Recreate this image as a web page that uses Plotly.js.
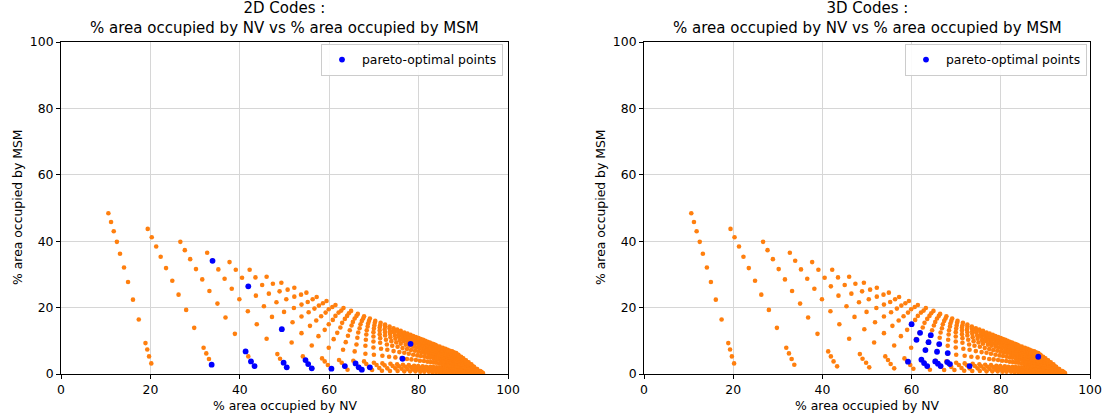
<!DOCTYPE html>
<html><head><meta charset="utf-8">
<script src="https://cdn.plot.ly/plotly-3.0.1.min.js"></script>
<style>html,body{margin:0;padding:0;background:#fff}#chart{width:1106px;height:415px}</style>
</head><body><div id="chart"></div>
<script>
// orange: all codes, one row per ray (NV %, MSM %)
const rayNV = [
[10.6,11.2,11.8,12.5,13.2,14.1,15.0,16.1,17.4,18.9,19.3,19.7,20.2],
[19.4,20.3,21.3,22.3,23.5,24.9,26.3,28.0,29.8,31.9,32.5,33.1,33.7],
[26.7,27.7,28.9,30.2,31.6,33.2,35.0,36.8,38.9,41.3,41.9,42.5,43.3],
[32.7,33.9,35.2,36.6,38.2,39.9,41.8,43.8,46.0,48.4,49.0,49.8,50.5],
[37.7,39.1,40.5,41.9,43.6,45.4,47.2,49.4,51.6,54.1,54.7,55.3,56.1],
[42.2,43.5,45.0,46.5,48.2,49.9,51.8,53.8,56.1,58.4,59.0,59.7,60.4],
[46.0,47.4,48.9,50.4,52.1,53.8,55.7,57.6,59.9,62.2,62.8,63.5,64.1],
[49.3,50.7,52.2,53.8,55.4,57.1,59.0,61.0,63.1,65.4,65.9,66.6,67.3],
[52.2,53.7,55.2,56.7,58.2,59.9,61.8,63.7,65.7,67.8,68.3,68.9,69.6],
[54.9,56.3,57.7,59.2,60.8,62.5,64.2,66.1,68.1,70.0,70.6,71.2,71.8],
[57.2,58.6,59.9,61.4,62.9,64.6,66.3,68.1,70.0,71.9,72.4,73.0,73.6],
[59.4,60.7,62.1,63.5,65.0,66.5,68.2,69.9,71.9,73.7,74.2,74.8,75.3],
[61.4,62.7,64.0,65.3,66.8,68.3,69.9,71.6,73.4,75.2,75.6,76.2,76.8],
[63.2,64.4,65.7,67.0,68.4,69.9,71.4,73.0,74.8,76.5,77.0,77.5,78.1],
[64.9,66.1,67.3,68.6,69.9,71.4,72.9,74.4,76.2,77.8,78.3,78.8,79.3],
[66.4,67.6,68.7,70.0,71.3,72.7,74.1,75.7,77.4,79.0,79.4,79.9,80.4],
[67.8,68.9,70.1,71.3,72.5,73.9,75.3,76.8,78.4,79.9,80.4,80.8,81.3],
[69.1,70.2,71.3,72.5,73.7,75.0,76.4,77.8,79.4,80.9,81.3,81.8,82.3],
[70.3,71.4,72.4,73.6,74.8,76.0,77.4,78.8,80.3,81.7,82.1,82.6,83.1],
[71.5,72.5,73.6,74.7,75.8,77.1,78.3,79.7,81.2,82.6,83.0,83.4,83.9],
[72.5,73.5,74.5,75.6,76.7,77.9,79.2,80.5,82.0,83.3,83.7,84.2,84.6],
[73.5,74.5,75.5,76.5,77.6,78.8,80.0,81.3,82.7,84.0,84.4,84.8,85.2],
[74.4,75.4,76.3,77.3,78.4,79.5,80.7,82.0,83.3,84.6,85.0,85.4,85.8],
[75.2,76.1,77.1,78.0,79.1,80.2,81.4,82.6,83.9,85.2,85.5,85.9,86.3],
[76.0,77.0,77.9,78.9,80.0,81.0,82.2,83.4,84.6,85.8,86.1,86.5,86.9],
[76.8,77.7,78.7,79.7,80.7,81.7,82.8,84.0,85.2,86.3,86.7,87.1,87.4],
[77.5,78.4,79.3,80.3,81.3,82.3,83.4,84.5,85.7,86.8,87.1,87.5,87.8],
[78.2,79.1,80.0,80.9,81.9,82.9,83.9,85.0,86.2,87.3,87.6,88.0,88.3],
[78.8,79.7,80.5,81.5,82.4,83.4,84.4,85.5,86.6,87.7,88.0,88.3,88.7],
[79.4,80.3,81.1,82.0,82.9,83.9,84.9,85.9,87.0,88.1,88.4,88.7,89.0],
[80.0,80.8,81.7,82.6,83.4,84.4,85.3,86.4,87.5,88.5,88.8,89.1,89.4],
[80.5,81.3,82.1,83.0,83.9,84.8,85.7,86.7,87.8,88.8,89.1,89.4,89.7],
[81.0,81.8,82.6,83.5,84.3,85.2,86.1,87.1,88.2,89.1,89.4,89.8,90.0],
[81.5,82.3,83.1,83.9,84.7,85.6,86.5,87.5,88.5,89.5,89.7,90.1,90.3],
[82.0,82.8,83.5,84.3,85.2,86.0,86.9,87.9,88.8,89.8,90.1,90.4,90.6],
[82.5,83.3,84.0,84.8,85.6,86.4,87.3,88.2,89.2,90.1,90.4,90.7,90.9],
[82.9,83.6,84.4,85.1,85.9,86.7,87.6,88.5,89.5,90.4,90.6,90.9,91.2],
[83.3,84.0,84.7,85.5,86.3,87.1,87.9,88.8,89.7,90.6,90.9,91.2,91.4],
[83.7,84.4,85.1,85.9,86.6,87.4,88.2,89.1,90.0,90.9,91.1,91.4,91.7],
[84.0,84.7,85.4,86.1,86.9,87.6,88.5,89.3,90.2,91.1,91.3,91.6,91.8],
[84.7,85.4,86.0,86.7,87.5,88.2,89.0,89.8,90.7,91.5,91.7,92.0,92.3],
[85.4,86.0,86.7,87.4,88.1,88.8,89.5,90.3,91.2,91.9,92.2,92.4,92.7],
[86.0,86.6,87.2,87.9,88.6,89.2,90.0,90.7,91.5,92.3,92.5,92.8,93.0],
[86.5,87.1,87.7,88.3,89.0,89.7,90.4,91.1,91.9,92.6,92.8,93.1,93.3],
[87.0,87.6,88.2,88.8,89.4,90.1,90.7,91.5,92.2,92.9,93.1,93.4,93.6],
[87.5,88.1,88.6,89.2,89.8,90.5,91.1,91.8,92.5,93.2,93.4,93.7,93.9],
[87.9,88.5,89.0,89.6,90.2,90.8,91.4,92.1,92.8,93.5,93.7,93.9,94.1],
[88.4,88.9,89.5,90.0,90.6,91.2,91.8,92.4,93.1,93.8,94.0,94.2,94.4]
];
const rayMSM = [
[48.4,45.8,43.0,39.8,36.2,32.1,27.7,22.4,16.4,9.3,7.4,5.3,3.2],
[43.7,41.2,38.4,35.3,31.9,28.1,23.9,19.3,13.9,7.9,6.2,4.5,2.8],
[39.8,37.3,34.6,31.6,28.5,25.0,21.2,17.0,12.1,6.8,5.3,3.8,2.3],
[36.5,34.1,31.5,28.7,25.7,22.5,18.9,15.0,10.6,6.0,4.6,3.4,2.0],
[33.7,31.4,29.0,26.4,23.6,20.4,17.2,13.5,9.5,5.3,4.2,3.0,1.7],
[31.4,29.1,26.8,24.2,21.6,18.7,15.6,12.3,8.6,4.7,3.8,2.7,1.6],
[29.3,27.2,24.9,22.5,19.9,17.3,14.5,11.4,7.9,4.2,3.4,2.3,1.3],
[27.5,25.4,23.3,20.9,18.6,16.1,13.3,10.5,7.3,4.0,3.2,2.2,1.2],
[26.0,23.9,21.7,19.7,17.4,15.0,12.4,9.6,6.8,3.8,3.0,2.1,1.2],
[24.5,22.5,20.6,18.5,16.3,14.0,11.5,8.9,6.1,3.4,2.7,1.8,1.0],
[23.2,21.3,19.5,17.5,15.4,13.2,10.9,8.5,5.8,3.2,2.6,1.7,0.9],
[22.0,20.2,18.5,16.6,14.6,12.5,10.3,8.0,5.5,3.1,2.4,1.7,0.9],
[20.8,19.1,17.5,15.7,13.8,11.9,9.8,7.6,5.2,2.9,2.3,1.6,0.8],
[19.9,18.3,16.7,15.0,13.2,11.3,9.4,7.3,5.0,2.8,2.2,1.5,0.8],
[19.0,17.5,16.0,14.3,12.6,10.8,8.9,6.9,4.8,2.7,2.1,1.4,0.8],
[18.1,16.7,15.2,13.7,12.0,10.3,8.5,6.6,4.5,2.5,2.0,1.4,0.7],
[17.4,16.0,14.6,13.1,11.6,9.9,8.2,6.4,4.4,2.4,1.9,1.3,0.7],
[16.7,15.4,14.0,12.6,11.1,9.5,7.8,6.1,4.2,2.3,1.8,1.3,0.7],
[16.0,14.7,13.4,12.1,10.6,9.1,7.5,5.8,4.0,2.2,1.8,1.2,0.6],
[15.4,14.2,12.9,11.6,10.2,8.8,7.2,5.6,3.9,2.2,1.7,1.2,0.6],
[14.9,13.7,12.5,11.2,9.9,8.5,7.0,5.4,3.7,2.1,1.6,1.1,0.6],
[14.3,13.2,12.0,10.8,9.5,8.2,6.7,5.2,3.6,2.0,1.6,1.1,0.6],
[13.8,12.7,11.6,10.4,9.2,7.9,6.5,5.0,3.5,1.9,1.5,1.0,0.6],
[13.4,12.3,11.3,10.1,8.9,7.6,6.3,4.9,3.4,1.9,1.5,1.0,0.5],
[13.0,11.9,10.8,9.6,8.5,7.2,5.9,4.6,3.1,1.8,1.4,0.9,0.5],
[12.5,11.4,10.4,9.3,8.1,6.9,5.7,4.4,3.0,1.7,1.3,0.9,0.5],
[12.2,11.2,10.1,9.0,7.9,6.8,5.6,4.3,2.9,1.6,1.3,0.9,0.5],
[11.8,10.8,9.8,8.7,7.7,6.5,5.4,4.1,2.8,1.6,1.2,0.8,0.5],
[11.4,10.4,9.5,8.4,7.4,6.3,5.2,4.0,2.7,1.5,1.2,0.8,0.5],
[11.1,10.2,9.2,8.2,7.2,6.2,5.1,3.9,2.7,1.5,1.2,0.8,0.4],
[10.8,9.9,9.0,8.0,7.0,6.0,4.9,3.8,2.6,1.5,1.1,0.8,0.4],
[10.5,9.6,8.7,7.8,6.8,5.8,4.8,3.7,2.5,1.4,1.1,0.7,0.4],
[10.3,9.4,8.5,7.6,6.7,5.7,4.7,3.6,2.5,1.4,1.1,0.7,0.4],
[10.0,9.2,8.3,7.4,6.5,5.6,4.6,3.5,2.4,1.4,1.1,0.7,0.4],
[9.7,8.9,8.1,7.2,6.3,5.4,4.4,3.4,2.3,1.3,1.0,0.7,0.4],
[9.5,8.7,7.9,7.0,6.2,5.3,4.3,3.3,2.3,1.3,1.0,0.7,0.4],
[9.2,8.4,7.6,6.8,6.0,5.1,4.2,3.2,2.2,1.2,1.0,0.6,0.4],
[9.0,8.2,7.5,6.7,5.9,5.0,4.1,3.2,2.2,1.2,0.9,0.6,0.4],
[8.8,8.1,7.3,6.5,5.7,4.9,4.0,3.1,2.1,1.2,0.9,0.6,0.4],
[8.6,7.9,7.1,6.4,5.6,4.8,3.9,3.0,2.1,1.2,0.9,0.6,0.3],
[8.3,7.6,6.9,6.1,5.4,4.6,3.8,2.9,2.0,1.1,0.9,0.6,0.3],
[7.9,7.2,6.6,5.8,5.1,4.4,3.6,2.8,1.9,1.1,0.8,0.6,0.3],
[7.6,7.0,6.3,5.6,4.9,4.2,3.5,2.7,1.8,1.0,0.8,0.5,0.3],
[7.3,6.7,6.1,5.4,4.7,4.1,3.3,2.6,1.8,1.0,0.8,0.5,0.3],
[7.0,6.4,5.8,5.2,4.6,3.9,3.2,2.5,1.7,0.9,0.7,0.5,0.3],
[6.8,6.2,5.6,5.0,4.4,3.8,3.1,2.4,1.6,0.9,0.7,0.5,0.3],
[6.5,5.9,5.4,4.8,4.2,3.6,3.0,2.3,1.6,0.9,0.7,0.5,0.3],
[6.3,5.8,5.2,4.7,4.1,3.5,2.9,2.2,1.5,0.9,0.7,0.4,0.3]
];
// pareto-optimal points
const pareto2D_NV  = [33.9,33.7,41.9,41.3,42.5,43.3,49.4,49.8,50.5,54.7,55.3,56.1,60.5,63.5,65.9,66.6,67.3,69.1,76.4,78.2];
const pareto2D_MSM = [34.1,2.8,26.4,6.8,3.8,2.4,13.5,3.4,2.0,4.2,3.0,1.7,1.6,2.4,3.2,2.0,1.3,2.0,4.6,9.1];
const pareto3D_NV  = [60.0,61.9,64.3,61.1,63.8,66.2,63.1,65.7,68.1,59.2,62.2,62.8,63.5,65.3,65.9,66.5,68.0,68.6,73.0,88.4];
const pareto3D_MSM = [15.0,12.4,11.7,10.3,9.6,9.0,7.2,6.7,6.3,3.7,4.3,3.3,2.4,3.8,3.1,2.4,3.6,3.0,2.4,5.2];

const titles = ['2D Codes :', '3D Codes :'];
const subtitle = '% area occupied by NV vs % area occupied by MSM';
const xLabel = '% area occupied by NV';
const yLabel = '% area occupied by MSM';
const legendLabel = 'pareto-optimal points';
const tickVals = [0,20,40,60,80,100];

const allNV = rayNV.flat();
const allMSM = rayMSM.flat();
const FONT = 'DejaVu Sans, sans-serif';
const FS = 12.4;

function orange(xa, ya){
  return {type:'scatter', mode:'markers', x:allNV, y:allMSM, xaxis:xa, yaxis:ya,
    marker:{color:'#ff7f0e', size:4.6, line:{width:0}}, showlegend:false, hoverinfo:'skip'};
}
function blue(x, y, xa, ya, lg){
  return {type:'scatter', mode:'markers', x:x, y:y, xaxis:xa, yaxis:ya, name:legendLabel, legend:lg,
    marker:{color:'#0000ff', size:5.8, line:{width:0}}, showlegend:true};
}
const data = [
  orange('x','y'), blue(pareto2D_NV, pareto2D_MSM, 'x','y','legend'),
  orange('x2','y2'), blue(pareto3D_NV, pareto3D_MSM, 'x2','y2','legend2')
];
function ax(domain, anchor){
  return {domain:domain, anchor:anchor, range:[0,100], tickvals:tickVals, ticks:'outside', ticklen:4,
    tickcolor:'#000', tickwidth:1, showline:true, mirror:true, linecolor:'#000', linewidth:1,
    showgrid:true, gridcolor:'#d6d6d6', gridwidth:1, zeroline:false, fixedrange:true,
    tickfont:{family:FONT, size:FS, color:'#000'}};
}
const xd1=[61/1106, 508/1106], xd2=[644/1106, 1090/1106], yd=[41/415, 373/415];
const leg = (xr)=>({x:xr, y:(415-44)/415, xanchor:'right', yanchor:'top', bgcolor:'rgba(255,255,255,0.9)',
  bordercolor:'#cccccc', borderwidth:1, font:{family:FONT, size:FS, color:'#000'}});
const ann = [];
[[xd1,0],[xd2,1]].forEach(([xd,i])=>{
  const cx=(xd[0]+xd[1])/2;
  ann.push({xref:'paper', yref:'paper', x:cx, y:yd[1], yanchor:'bottom', xanchor:'center', yshift:3, showarrow:false,
    text:titles[i]+'<br>'+subtitle, font:{family:FONT, size:15, color:'#000'}});
  ann.push({xref:'paper', yref:'paper', x:cx, y:10/415, yanchor:'middle', xanchor:'center', showarrow:false,
    text:xLabel, font:{family:FONT, size:FS, color:'#000'}});
  ann.push({xref:'paper', yref:'paper', x:(xd[0]*1106-44)/1106, y:(yd[0]+yd[1])/2, xanchor:'center', yanchor:'middle',
    textangle:-90, showarrow:false, text:yLabel, font:{family:FONT, size:FS, color:'#000'}});
});
const layout = {
  width:1106, height:415, margin:{l:0,r:0,t:0,b:0}, paper_bgcolor:'#fff', plot_bgcolor:'#fff',
  font:{family:FONT, color:'#000'},
  xaxis:ax(xd1,'y'), yaxis:ax(yd,'x'), xaxis2:ax(xd2,'y2'), yaxis2:ax(yd,'x2'),
  legend:leg(503/1106), legend2:leg(1087/1106),
  annotations:ann
};
Plotly.newPlot('chart', data, layout, {displayModeBar:false, staticPlot:true});
</script></body></html>
